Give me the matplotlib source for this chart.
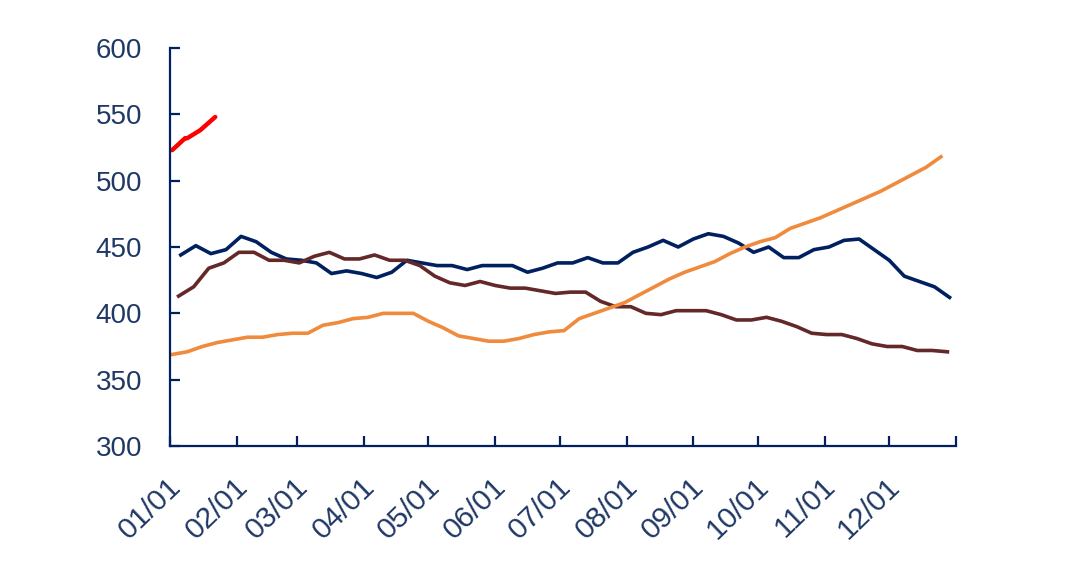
"""Weekly series over one calendar year, four years overlaid on a month axis."""

import matplotlib
matplotlib.use("Agg")
import matplotlib.dates as mdates
import matplotlib.pyplot as plt
import matplotlib.transforms as mtransforms
import numpy as np

YEAR = "2023"  # any non-leap year: only month/day is shown

NAVY = "#002060"
BROWN = "#642828"
ORANGE = "#F08A3C"
RED = "#FF0000"
TEXT = "#1F3864"

# weekly values
navy_start = f"{YEAR}-01-06"
navy_vals = [444, 451, 445, 448, 458, 454, 446, 441, 440, 438, 430, 432, 430,
             427, 431, 440, 438, 436, 436, 433, 436, 436, 436, 431, 434, 438,
             438, 442, 438, 438, 446, 450, 455, 450, 456, 460, 458, 453, 446,
             450, 442, 442, 448, 450, 455, 456, 448, 440, 428, 424, 420, 412]

brown_start = f"{YEAR}-01-05"
brown_vals = [413, 420, 434, 438, 446, 446, 440, 440, 438, 443, 446, 441, 441,
              444, 440, 440, 436, 428, 423, 421, 424, 421, 419, 419, 417, 415,
              416, 416, 409, 405, 405, 400, 399, 402, 402, 402, 399, 395, 395,
              397, 394, 390, 385, 384, 384, 381, 377, 375, 375, 372, 372, 371]

orange_start = f"{YEAR}-01-02"
orange_vals = [369, 371, 375, 378, 380, 382, 382, 384, 385, 385, 391, 393, 396,
               397, 400, 400, 400, 394, 389, 383, 381, 379, 379, 381, 384, 386,
               387, 396, 400, 404, 408, 414, 420, 426, 431, 435, 439, 445, 450,
               454, 457, 464, 468, 472, 477, 482, 487, 492, 498, 504, 510, 518]

# current year, only a few weeks so far
red_dates = [f"{YEAR}-01-02", f"{YEAR}-01-08", f"{YEAR}-01-09",
             f"{YEAR}-01-15", f"{YEAR}-01-22"]
red_vals = [523, 532, 532, 538, 548]

y_ticks = [300, 350, 400, 450, 500, 550, 600]


def weekly(start, n):
    return np.datetime64(start) + np.arange(n) * np.timedelta64(7, "D")


plt.rcParams["font.family"] = ["Liberation Sans", "DejaVu Sans"]

fig = plt.figure(figsize=(10.8, 5.84), dpi=100)
ax = fig.add_axes([0.1574, 0.2363, 0.7278, 0.6815])

ax.plot(weekly(navy_start, len(navy_vals)), navy_vals, color=NAVY, lw=2.6)
ax.plot(weekly(brown_start, len(brown_vals)), brown_vals, color=BROWN, lw=2.6)
ax.plot(weekly(orange_start, len(orange_vals)), orange_vals, color=ORANGE, lw=2.6)
ax.plot(np.array(red_dates, dtype="datetime64[D]"), red_vals, color=RED, lw=3.2,
        solid_capstyle="round")

ax.set_xlim(np.datetime64(f"{YEAR}-01-01"), np.datetime64("2024-01-01"))
ax.set_ylim(300, 600)
ax.set_yticks(y_ticks)

ax.xaxis.set_major_locator(mdates.MonthLocator(bymonthday=1))
ax.xaxis.set_major_formatter(mdates.DateFormatter("%m/%d"))

for side in ("top", "right"):
    ax.spines[side].set_visible(False)
for side in ("left", "bottom"):
    ax.spines[side].set_color(NAVY)
    ax.spines[side].set_linewidth(1.6)

ax.tick_params(axis="y", direction="in", length=7, width=1.6, color=NAVY,
               labelsize=20, labelcolor=TEXT, pad=20)
ax.tick_params(axis="x", direction="in", length=7, width=1.6, color=NAVY,
               labelsize=21.5, labelcolor=TEXT, pad=26)

shift = mtransforms.ScaledTranslation(0.07, 0, fig.dpi_scale_trans)
labels = ax.get_xticklabels()
# the tick at next year's 01/01 carries no label
labels[-1].set_visible(False)
for lab in labels:
    lab.set_rotation(44)
    lab.set_ha("right")
    lab.set_va("center")
    lab.set_rotation_mode("anchor")
    lab.set_transform(lab.get_transform() + shift)

fig.savefig("out.png", dpi=100)
